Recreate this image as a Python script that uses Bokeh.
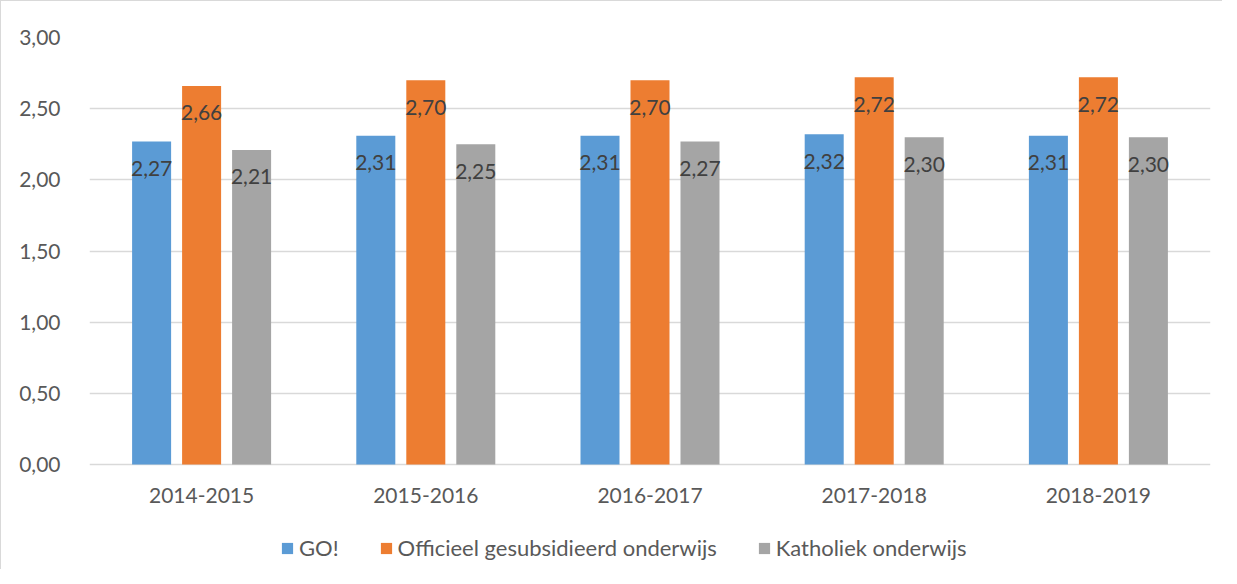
from bokeh.plotting import figure
from bokeh.models import ColumnDataSource, FactorRange, Range1d, FixedTicker, CustomJSTickFormatter, Legend, LegendItem
from bokeh.transform import dodge
from bokeh.core.properties import value
from bokeh.embed import file_html
from bokeh.resources import INLINE

years = ["2014-2015", "2015-2016", "2016-2017", "2017-2018", "2018-2019"]
series_names = ["GO!", "Officieel gesubsidieerd onderwijs", "Katholiek onderwijs"]
go = [2.27, 2.31, 2.31, 2.32, 2.31]
ogo = [2.66, 2.70, 2.70, 2.72, 2.72]
kath = [2.21, 2.25, 2.27, 2.30, 2.30]
y_ticks = [0.0, 0.5, 1.0, 1.5, 2.0, 2.5, 3.0]

colors = ["#5B9BD5", "#ED7D31", "#A5A5A5"]
FONT = "Lato"

def fmt(v):
    return f"{v:.2f}".replace(".", ",")

# layout: data area (0..3) is 427 px tall; frame is extended below to hold axis labels + legend
DATA_H = 427
FRAME_H = 528
y_top = 3.0
y_bottom = -(FRAME_H - DATA_H) / DATA_H * y_top

p = figure(
    x_range=FactorRange(*years, range_padding=0),
    y_range=Range1d(y_bottom, y_top),
    frame_width=1121, frame_height=FRAME_H,
    output_backend="svg", toolbar_location=None,
    min_border_left=88, min_border_right=12, min_border_top=36, min_border_bottom=4,
)
p.styles = {"border-left": "1px solid #d9d9d9", "border-top": "1px solid #d9d9d9"}
p.outline_line_color = None
p.background_fill_color = "white"
p.border_fill_color = "white"

offsets = [-0.223, 0.0, 0.223]
renderers = []
for vals, off, col in zip([go, ogo, kath], offsets, colors):
    src = ColumnDataSource(dict(x=years, y=vals, lbl=[fmt(v) for v in vals]))
    r = p.vbar(x=dodge("x", off, range=p.x_range), top="y", width=0.174, source=src,
               fill_color=col, line_color=None)
    renderers.append(r)
    p.text(x=dodge("x", off, range=p.x_range), y="y", text="lbl", source=src,
           text_align="center", text_baseline="middle", y_offset=27,
           text_font=value(FONT), text_font_size="21px", text_color="#404040")

# category labels under the 0 line
cat_src = ColumnDataSource(dict(x=years, y=[0] * len(years), lbl=years))
p.text(x="x", y="y", text="lbl", source=cat_src, text_align="center", text_baseline="middle",
       y_offset=31, text_font=value(FONT), text_font_size="21px", text_color="#595959")

p.xaxis.visible = False
p.yaxis.ticker = FixedTicker(ticks=y_ticks)
p.yaxis.formatter = CustomJSTickFormatter(code="return tick.toFixed(2).replace('.', ',');")
p.yaxis.axis_line_color = None
p.yaxis.major_tick_line_color = None
p.yaxis.minor_tick_line_color = None
p.yaxis.major_label_text_font = FONT
p.yaxis.major_label_text_font_size = "21px"
p.yaxis.major_label_text_color = "#595959"
p.yaxis.major_label_standoff = 23

p.xgrid.grid_line_color = None
p.ygrid.ticker = FixedTicker(ticks=y_ticks)
p.ygrid.grid_line_color = "#D9D9D9"
p.ygrid.grid_line_width = 1.3

legend = Legend(
    items=[LegendItem(label=n, renderers=[r]) for n, r in zip(series_names, renderers)],
    location=(191, 4), orientation="horizontal",
    glyph_width=14, glyph_height=14, label_standoff=5, spacing=40,
    padding=0, margin=0, border_line_color=None, background_fill_alpha=0,
    label_text_font=FONT, label_text_font_size="22px", label_text_color="#595959",
)
p.add_layout(legend)

open("out.html", "w").write(file_html(p, INLINE))
